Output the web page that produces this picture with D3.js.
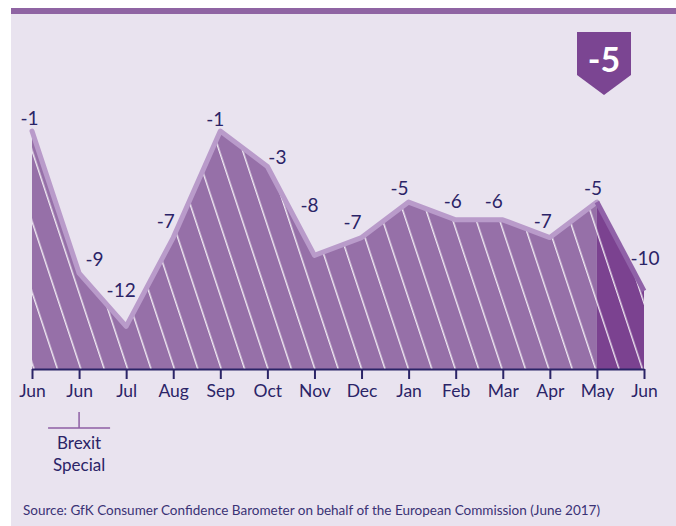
<!DOCTYPE html>
<html><head><meta charset="utf-8">
<script src="https://cdn.jsdelivr.net/npm/d3@7"></script>
<style>
html,body{margin:0;padding:0;background:#fff;}
svg{display:block;font-family:Lato,"Open Sans",sans-serif;}
</style></head>
<body>
<svg id="chart" width="676" height="526"></svg>
<script>
// ---- data ----
const months = ["Jun","Jun","Jul","Aug","Sep","Oct","Nov","Dec","Jan","Feb","Mar","Apr","May","Jun"];
const values = [-1,-9,-12,-7,-1,-3,-8,-7,-5,-6,-6,-7,-5,-10];
const latestValue = -5;
const bracketLines = ["Brexit","Special"];
const sourceText = "Source: GfK Consumer Confidence Barometer on behalf of the European Commission (June 2017)";
// label offsets (layout only)
const labelDx = [-2.5,15.5,-5,-7.5,-5,10,-5,-9,-9,-3,-9,-7,-4,1];
const labelDy = [-6,-7,-29,-10,-5,-3,-43,-9,-7,-12,-12,-9.5,-7.5,-26];

const svg = d3.select("#chart");
const W = 676, H = 526;
const navy = "#2b2467";

// panel
svg.append("rect").attr("x",11).attr("y",8).attr("width",W-11).attr("height",H-8).attr("fill","#e9e3ef");
svg.append("rect").attr("x",11).attr("y",8).attr("width",W-11).attr("height",6).attr("fill","#8f64a3");

const idx = d3.range(values.length);
const x = d3.scalePoint().domain(idx).range([32,644]);
const y = d3.scaleLinear().domain([-14.4,-1]).range([369,131]);

// hatch pattern
const defs = svg.append("defs");
const pat = defs.append("pattern").attr("id","hatch")
  .attr("patternUnits","userSpaceOnUse")
  .attr("x",4.8).attr("y",0)
  .attr("width",23.4).attr("height",20)
  .attr("patternTransform","skewX(18.3)");
pat.append("line").attr("x1",0.75).attr("x2",0.75).attr("y1",-1).attr("y2",21)
  .attr("stroke","#ffffff").attr("stroke-opacity",0.85).attr("stroke-width",1.5);

const area = d3.area().x(i=>x(i)).y0(y(-14.4)).y1(i=>y(values[i]));
const line = d3.line().x(i=>x(i)).y(i=>y(values[i]));

const n = values.length;
const mainIdx = idx.slice(0,n-1);
const lastIdx = idx.slice(n-2);

svg.append("path").attr("d",area(mainIdx)).attr("fill","#9670a8");
svg.append("path").attr("d",area(lastIdx)).attr("fill","#7b4290");
svg.append("path").attr("d",area(idx)).attr("fill","url(#hatch)");

svg.append("path").attr("d",line(mainIdx)).attr("fill","none")
  .attr("stroke","#b99bca").attr("stroke-width",5).attr("stroke-linejoin","round").attr("stroke-linecap","round");
svg.append("path").attr("d",line(lastIdx)).attr("fill","none")
  .attr("stroke","#9062a8").attr("stroke-width",5).attr("stroke-linejoin","round").attr("stroke-linecap","butt");

// axis
const axis = d3.axisBottom(x).tickSize(10).tickSizeOuter(0).tickFormat(i=>months[i]);
const gx = svg.append("g").attr("transform",`translate(0,${y(-14.4)})`).call(axis);
gx.select(".domain").attr("stroke",navy).attr("stroke-width",2);
gx.selectAll(".tick line").attr("stroke",navy).attr("stroke-width",2);
gx.selectAll(".tick text").attr("y",28).attr("dy",0).attr("fill",navy)
  .style("font-family","Lato, sans-serif").style("font-size","17.5px");

// value labels
svg.append("g").selectAll("text").data(idx).join("text")
  .attr("x",i=>x(i)+labelDx[i]).attr("y",i=>y(values[i])+labelDy[i])
  .attr("text-anchor","middle").attr("fill",navy)
  .style("font-size","19px")
  .text(i=>values[i]);

// Brexit special bracket
const bx = x(1);
const br = svg.append("g");
br.append("line").attr("x1",bx).attr("x2",bx).attr("y1",412).attr("y2",428).attr("stroke","#8e5fa5").attr("stroke-width",1.5);
br.append("line").attr("x1",bx-31).attr("x2",bx+31).attr("y1",428).attr("y2",428).attr("stroke","#8e5fa5").attr("stroke-width",1.5);
br.selectAll("text").data(bracketLines).join("text")
  .attr("x",bx).attr("y",(d,i)=>449+i*22).attr("text-anchor","middle")
  .attr("fill",navy).style("font-size","17px").text(d=>d);

// badge
const badge = svg.append("g");
badge.append("path").attr("d","M577,32H631V75L604,95L577,75Z").attr("fill","#7b4592");
badge.append("text").attr("x",604).attr("y",72).attr("text-anchor","middle")
  .attr("fill","#fff").style("font-size","34px").style("font-weight","700").text(latestValue);

// source
svg.append("text").attr("x",23).attr("y",515).attr("fill","#3a3275")
  .style("font-size","13px").attr("textLength",577).attr("lengthAdjust","spacingAndGlyphs")
  .text(sourceText);
</script>
</body></html>
